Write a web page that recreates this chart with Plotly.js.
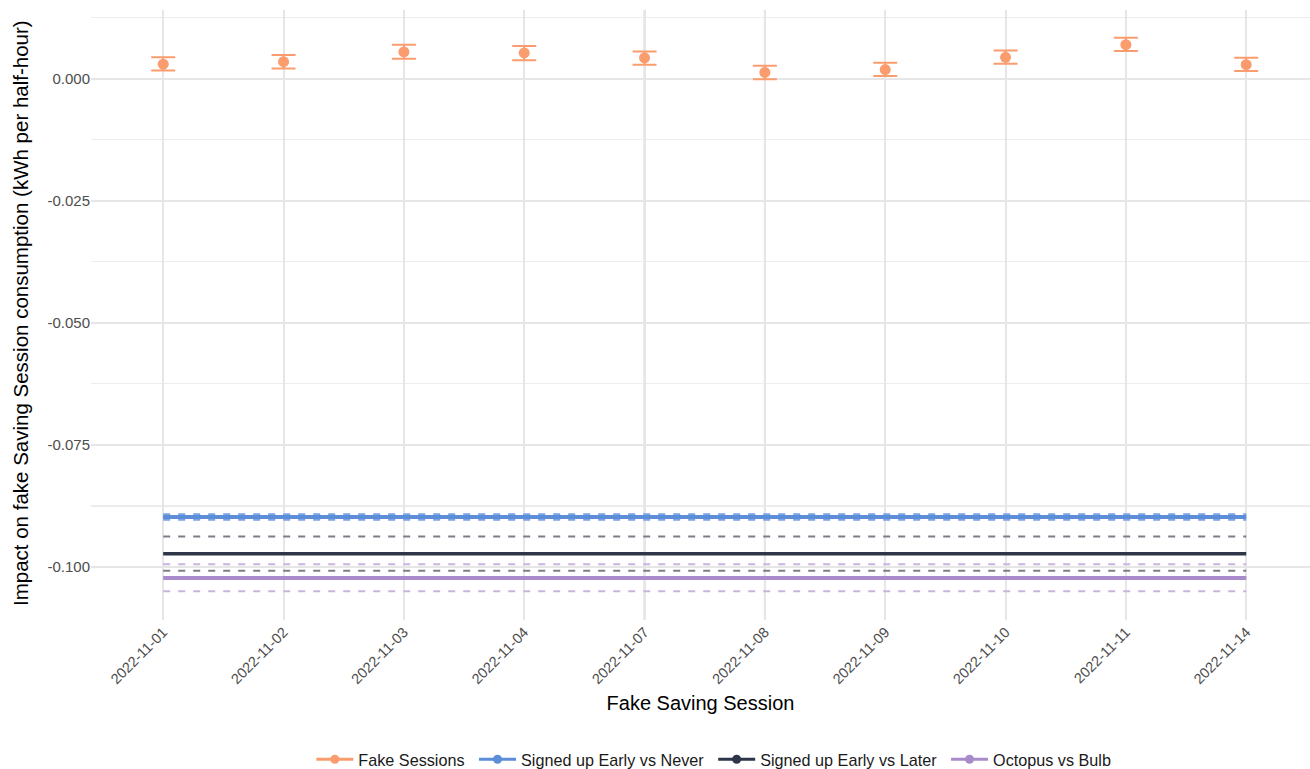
<!DOCTYPE html>
<html>
<head>
<meta charset="utf-8">
<script src="https://cdn.plot.ly/plotly-3.0.1.min.js"></script>
<style>html,body{margin:0;padding:0;background:#fff;}#chart{width:1310px;height:769px;}</style>
</head>
<body>
<div id="chart"></div>
<script>
// ---- data ----
const sessions = ['2022-11-01','2022-11-02','2022-11-03','2022-11-04','2022-11-07','2022-11-08','2022-11-09','2022-11-10','2022-11-11','2022-11-14'];
const fakeEstimate = [0.0030, 0.0035, 0.0055, 0.0053, 0.0043, 0.0013, 0.0019, 0.0044, 0.0070, 0.0029];
const fakeUpper    = [0.0044, 0.0049, 0.0070, 0.0067, 0.0056, 0.0027, 0.0033, 0.0058, 0.0084, 0.0043];
const fakeLower    = [0.0017, 0.0021, 0.0041, 0.0038, 0.0029, -0.0001, 0.0006, 0.0031, 0.0057, 0.0016];

const earlyNeverEstimate = -0.0898;
const earlyNeverUpper = -0.0894;
const earlyNeverLower = -0.0902;

const earlyLaterEstimate = -0.0973;
const earlyLaterUpper = -0.0938;
const earlyLaterLower = -0.1008;

const octopusBulbEstimate = -0.1023;
const octopusBulbUpper = -0.0995;
const octopusBulbLower = -0.1050;

const referenceLine = -0.0875;

const yTickVals = [0, -0.025, -0.05, -0.075, -0.1];
const yTickText = ['0.000', '-0.025', '-0.050', '-0.075', '-0.100'];
const yMinorVals = [0.0125, -0.0125, -0.0375, -0.0625, -0.0875];

const legendNames = ['Fake Sessions', 'Signed up Early vs Never', 'Signed up Early vs Later', 'Octopus vs Bulb'];
const xTitle = 'Fake Saving Session';
const yTitle = 'Impact on fake Saving Session consumption (kWh per half-hour)';

// ---- styles ----
const cOrange = '#fb9c6e';
const cBlue = '#5b8dd9';
const cBlueCI = '#7ba4e2';
const cNavy = '#2e3549';
const cNavyCI = '#7b7e89';
const cPurple = '#a98bcb';
const cPurpleCI = '#c7b5dd';
const dashPat = '7px,8px';

function flat(v) { return sessions.map(() => v); }
function hline(v, color, width, dash) {
  return {x: sessions, y: flat(v), type: 'scatter', mode: 'lines', showlegend: false, hoverinfo: 'skip',
          line: {color: color, width: width, dash: dash || 'solid'}};
}

const traces = [
  hline(earlyNeverUpper, cBlueCI, 3.5, dashPat),
  hline(earlyNeverLower, cBlueCI, 3.5, dashPat),
  hline(earlyNeverEstimate, cBlue, 4),
  hline(earlyLaterUpper, cNavyCI, 2, dashPat),
  hline(earlyLaterLower, cNavyCI, 2, dashPat),
  hline(earlyLaterEstimate, cNavy, 3.5),
  hline(octopusBulbUpper, cPurpleCI, 2, dashPat),
  hline(octopusBulbLower, cPurpleCI, 2, dashPat),
  hline(octopusBulbEstimate, cPurple, 4),
  {
    x: sessions, y: fakeEstimate, type: 'scatter', mode: 'markers', showlegend: false,
    marker: {color: cOrange, size: 11},
    error_y: {type: 'data', symmetric: false,
              array: fakeUpper.map((u, i) => u - fakeEstimate[i]),
              arrayminus: fakeEstimate.map((e, i) => e - fakeLower[i]),
              color: cOrange, thickness: 2, width: 12}
  }
];
const legendColors = [cOrange, cBlue, cNavy, cPurple];
const pad = '\u00a0';
legendNames.forEach((n, i) => {
  traces.push({x: [null], y: [null], type: 'scatter', mode: 'lines+markers', name: n + pad,
               line: {color: legendColors[i], width: 3}, marker: {color: legendColors[i], size: 9}});
});

const shapes = [
  {type: 'line', xref: 'paper', yref: 'y', x0: 0, x1: 1, y0: referenceLine, y1: referenceLine,
   line: {color: '#bdbdbd', width: 1}, layer: 'below'},
  {type: 'line', xref: 'x', yref: 'paper', x0: sessions[4], x1: sessions[4], y0: 0, y1: 1,
   line: {color: '#d3d3d3', width: 2}, layer: 'below'},
  {type: 'line', xref: 'x', yref: 'paper', x0: sessions[5], x1: sessions[5], y0: 0, y1: 1,
   line: {color: '#d3d3d3', width: 2}, layer: 'below'}
];

const font = 'Liberation Sans, Arial, sans-serif';
const layout = {
  width: 1310, height: 769,
  margin: {l: 91, r: 0, t: 10, b: 149, autoexpand: false},
  paper_bgcolor: '#fff', plot_bgcolor: '#fff',
  font: {family: font, color: '#000'},
  showlegend: true,
  legend: {orientation: 'h', x: 0.513, xanchor: 'center', y: -0.229, yanchor: 'middle', itemwidth: 37,
           font: {family: font, size: 16.2, color: '#1a1a1a'}},
  xaxis: {
    type: 'category', categoryorder: 'array', categoryarray: sessions, automargin: false,
    range: [-0.6, 9.53], showgrid: true, gridcolor: '#e6e6e6', gridwidth: 2,
    zeroline: false, showline: false, ticks: '', tickangle: -45,
    tickfont: {family: font, size: 14.5, color: '#4d4d4d'},
    title: {text: xTitle, font: {family: font, size: 20, color: '#000'}, standoff: 9}
  },
  yaxis: {
    range: [-0.1109, 0.0141], tickvals: yTickVals, ticktext: yTickText, automargin: false,
    showgrid: true, gridcolor: '#e6e6e6', gridwidth: 2, zeroline: false, showline: false, ticks: '',
    tickfont: {family: font, size: 15, color: '#4d4d4d'},
    minor: {tickvals: yMinorVals, showgrid: true, gridcolor: '#ededed', gridwidth: 1.2, ticks: ''}
  },
  annotations: [{
    text: yTitle, xref: 'paper', yref: 'paper', x: 0, y: 0.5, xanchor: 'center', yanchor: 'middle',
    xshift: -71, yshift: 2, textangle: -90, showarrow: false,
    font: {family: font, size: 20.5, color: '#000'}
  }],
  shapes: shapes
};

Plotly.newPlot('chart', traces, layout, {displayModeBar: false, staticPlot: true});
</script>
</body>
</html>
